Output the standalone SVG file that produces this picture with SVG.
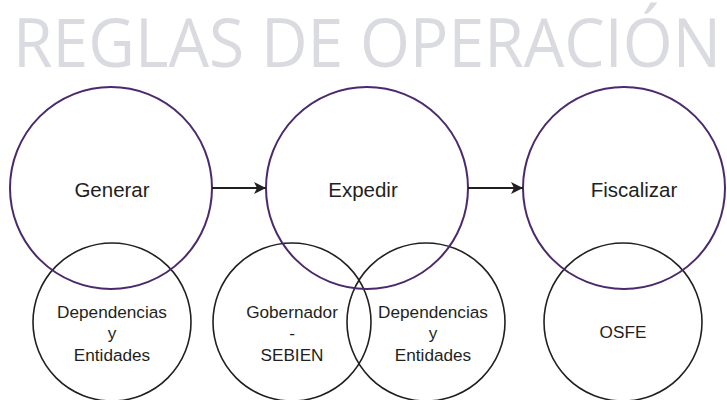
<svg xmlns="http://www.w3.org/2000/svg" width="727" height="400" viewBox="0 0 727 400">
<defs>
<style>
.big{fill:none;stroke:#4a2a6c;stroke-width:2}
.small{fill:none;stroke:#231f20;stroke-width:1.6}
.lbl{font-family:"Liberation Sans",Arial,sans-serif;fill:#231f20;text-anchor:middle}
.l1{font-size:20.5px}
.l2{font-size:17.2px}
.title{font-family:"Open Sans","Liberation Sans",sans-serif;font-weight:400;font-size:67px;fill:#dadbe0}
.conn{stroke:#231f20;stroke-width:2;fill:none}
</style>
<marker id="ah" viewBox="0 0 10 10" refX="10" refY="5" markerWidth="14" markerHeight="12" markerUnits="userSpaceOnUse" orient="auto">
<path d="M0,0 L10,5 L0,10 L2.5,5 Z" fill="#231f20"/>
</marker>
</defs>
<text class="title" x="13" y="67" textLength="708" lengthAdjust="spacingAndGlyphs">REGLAS DE OPERACIÓN</text>
<g id="dep1"><circle class="small" cx="112" cy="322" r="79"/>
<text class="lbl l2" x="112" y="318">Dependencias</text><text class="lbl l2" x="112" y="339">y</text><text class="lbl l2" x="112" y="361">Entidades</text></g>
<g id="gob"><circle class="small" cx="292" cy="322" r="79"/>
<text class="lbl l2" x="292" y="318">Gobernador</text><text class="lbl l2" x="292" y="339">-</text><text class="lbl l2" x="292" y="361">SEBIEN</text></g>
<g id="dep2"><circle class="small" cx="426" cy="322" r="79"/>
<text class="lbl l2" x="433" y="318">Dependencias</text><text class="lbl l2" x="433" y="339">y</text><text class="lbl l2" x="433" y="361">Entidades</text></g>
<g id="osfe"><circle class="small" cx="623" cy="322" r="79"/>
<text class="lbl l2" x="623" y="338">OSFE</text></g>
<g id="generar"><circle class="big" cx="111" cy="188" r="101"/><text class="lbl l1" x="112" y="197">Generar</text></g>
<g id="expedir"><circle class="big" cx="367" cy="188" r="101"/><text class="lbl l1" x="363" y="197">Expedir</text></g>
<g id="fiscalizar"><circle class="big" cx="624" cy="188" r="101"/><text class="lbl l1" x="634" y="197">Fiscalizar</text></g>
<g id="connectors">
<line class="conn" x1="212" y1="188" x2="266" y2="188" marker-end="url(#ah)"/>
<line class="conn" x1="468" y1="188" x2="523" y2="188" marker-end="url(#ah)"/>
</g>
</svg>
